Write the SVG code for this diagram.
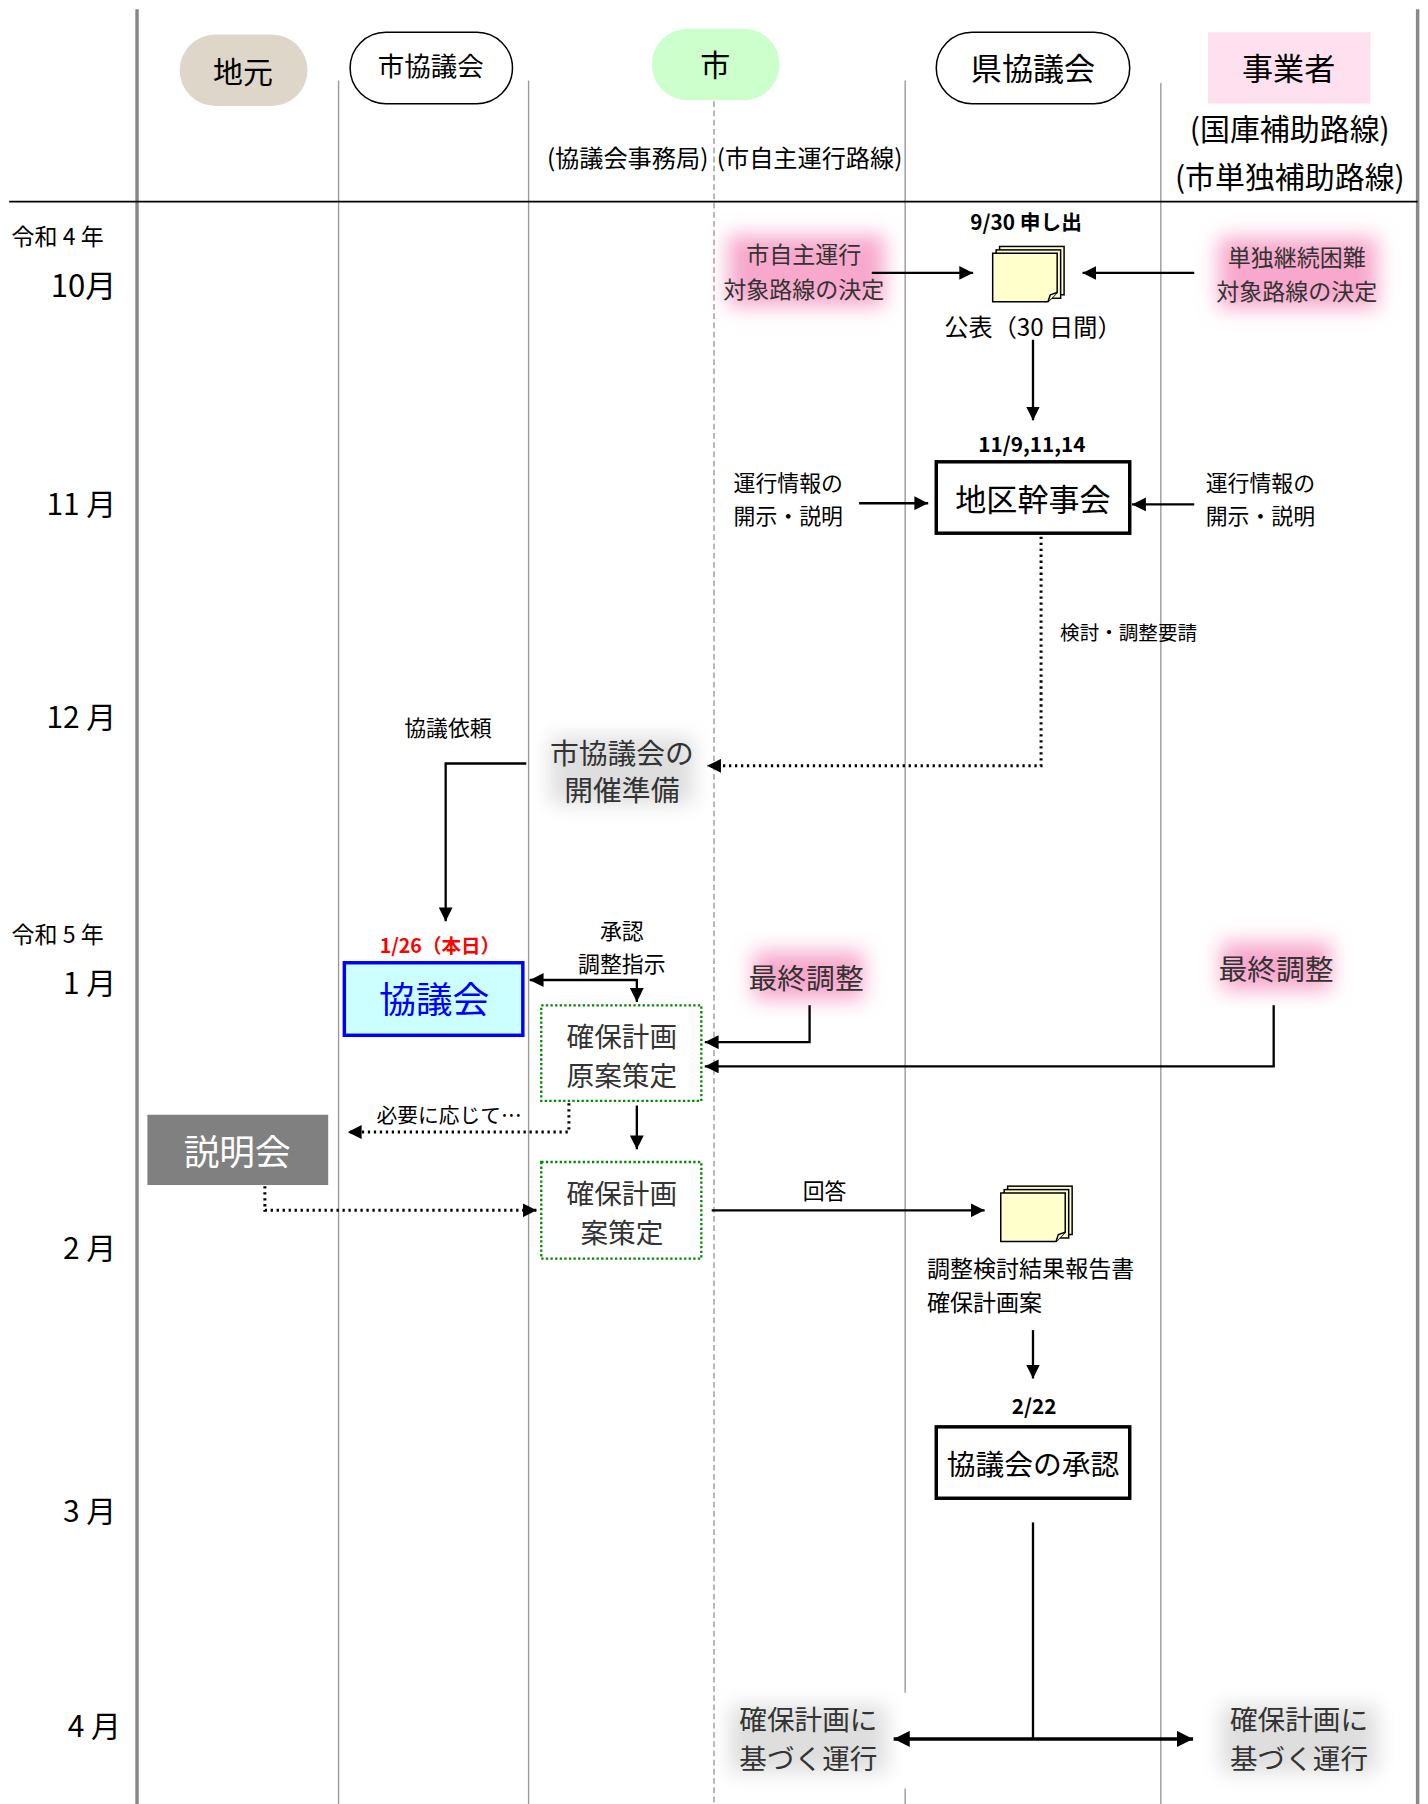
<svg xmlns="http://www.w3.org/2000/svg" width="1428" height="1804" viewBox="0 0 1428 1804">
<defs>
<style>
text{font-family:"Noto Sans CJK JP","Noto Sans",sans-serif;fill:#000;}
.c{text-anchor:middle;dominant-baseline:central;}
.l{text-anchor:start;dominant-baseline:central;}
.r{text-anchor:end;dominant-baseline:central;}
.b{font-weight:bold;}
.g{fill:#333;}
.lane{stroke:#999;stroke-width:1.2;fill:none;}
.frame{stroke:#888;stroke-width:3;fill:none;}
.con{stroke:#000;stroke-width:2;fill:none;}
.dot{stroke:#000;stroke-width:2.6;fill:none;stroke-dasharray:2 3.2;}
.box{fill:#fff;stroke:#000;stroke-width:3;}
.gbox{fill:#fff;stroke:#080;stroke-width:2;stroke-dasharray:2 2;}
.doc{fill:#ffffcc;stroke:#000;stroke-width:1.3;}
</style>
<marker id="ah" viewBox="0 0 10 10" refX="10" refY="5" markerWidth="12" markerHeight="12" markerUnits="userSpaceOnUse" orient="auto-start-reverse"><path d="M0,0 L10,5 L0,10 z" fill="#000"/></marker>
<marker id="ahb" viewBox="0 0 10 10" refX="10" refY="5" markerWidth="14" markerHeight="14" markerUnits="userSpaceOnUse" orient="auto-start-reverse"><path d="M0,0 L10,5 L0,10 z" fill="#000"/></marker>
<filter id="blur" x="-40%" y="-40%" width="180%" height="180%"><feGaussianBlur stdDeviation="9"/></filter>
<g id="docs">
<rect class="doc" x="6" y="0" width="56" height="42"/>
<rect class="doc" x="3" y="3" width="56" height="42"/>
<path class="doc" d="M0,6 H56 V40 L48,48 H0 Z"/>
<path class="doc" d="M48,48 L50,42 L56,40"/>
</g>
</defs>
<rect width="1428" height="1804" fill="#fff"/>
<g transform="scale(1.15161)">
<g id="grid">
<line class="lane" x1="294" y1="70" x2="294" y2="1567"/>
<line class="lane" x1="459" y1="70" x2="459" y2="1567"/>
<line class="lane" x1="620" y1="88" x2="620" y2="1567" stroke-dasharray="5 3"/>
<line class="lane" x1="786" y1="70" x2="786" y2="1470"/>
<line class="lane" x1="786" y1="1553" x2="786" y2="1567"/>
<line class="lane" x1="1008" y1="72" x2="1008" y2="1567"/>
<line class="frame" x1="119" y1="8" x2="119" y2="1567"/>
<line class="frame" x1="1231" y1="8" x2="1231" y2="1567"/>
<line x1="8" y1="175" x2="1231" y2="175" stroke="#000" stroke-width="1.5"/>
</g>
<g id="timeline">
<text class="l" x="10" y="204" font-size="20">令和 4 年</text>
<text class="r" x="101" y="246" font-size="27">10月</text>
<text class="r" x="101" y="436" font-size="26">11 月</text>
<text class="r" x="101" y="621" font-size="26">12 月</text>
<text class="l" x="10" y="810" font-size="20">令和 5 年</text>
<text class="r" x="101" y="852" font-size="26">1 月</text>
<text class="r" x="101" y="1082" font-size="26">2 月</text>
<text class="r" x="101" y="1310" font-size="26">3 月</text>
<text class="r" x="105" y="1497" font-size="26">4 月</text>
</g>
<g id="h-jimoto"><rect x="156" y="30" width="111" height="62" rx="31" fill="#ddd6c9"/><text class="c" x="211" y="61" font-size="26">地元</text></g>
<g id="h-shikyo"><rect x="304" y="28" width="141" height="62" rx="31" fill="#fff" stroke="#000" stroke-width="1.3"/><text class="c" x="374" y="56" font-size="23">市協議会</text></g>
<g id="h-shi"><rect x="566" y="25" width="111" height="62" rx="31" fill="#ccffcc"/><text class="c" x="621" y="55" font-size="26">市</text></g>
<g id="h-kenkyo"><rect x="813" y="28" width="168" height="62" rx="31" fill="#fff" stroke="#000" stroke-width="1.3"/><text class="c" x="897" y="58" font-size="27">県協議会</text></g>
<g id="h-jigyo"><rect x="1049" y="28" width="141" height="62" fill="#ffe0ee"/><text class="c" x="1119" y="58" font-size="27">事業者</text>
<text class="c" x="1120" y="110" font-size="26">(国庫補助路線)</text>
<text class="c" x="1120" y="152" font-size="26">(市単独補助路線)</text></g>
<g id="h-sub"><text class="c" x="545" y="136" font-size="21">(協議会事務局)</text><text class="c" x="703" y="136" font-size="21">(市自主運行路線)</text></g>

<g id="n-shijishu"><rect x="632" y="204" width="136" height="62" fill="#f7a8cc" filter="url(#blur)"/>
<text class="c g" font-size="20"><tspan x="698" y="220">市自主運行</tspan><tspan x="698" y="250">対象路線の決定</tspan></text></g>
<g id="n-tandoku"><rect x="1058" y="206" width="138" height="62" fill="#f7a8cc" filter="url(#blur)"/>
<text class="c g" font-size="20"><tspan x="1126" y="222">単独継続困難</tspan><tspan x="1126" y="252">対象路線の決定</tspan></text></g>
<g id="n-moushide"><text class="c b" x="891" y="192" font-size="18">9/30 申し出</text><use href="#docs" x="862" y="214"/><text class="c" x="897" y="283" font-size="21">公表（30 日間）</text></g>
<g id="n-kanjikai"><text class="c b" x="896" y="385" font-size="18">11/9,11,14</text><rect class="box" x="813" y="401" width="168" height="62"/><text class="c" x="897" y="432" font-size="27">地区幹事会</text></g>
<g id="n-info-l"><text class="l" font-size="19"><tspan x="637" y="418">運行情報の</tspan><tspan x="637" y="446">開示・説明</tspan></text></g>
<g id="n-info-r"><text class="l" font-size="19"><tspan x="1047" y="418">運行情報の</tspan><tspan x="1047" y="446">開示・説明</tspan></text></g>
<g id="n-junbi"><rect x="478" y="640" width="124" height="58" fill="#dedede" filter="url(#blur)"/>
<text class="c g" font-size="25"><tspan x="540" y="652">市協議会の</tspan><tspan x="540" y="684">開催準備</tspan></text></g>
<g id="n-kyogikai"><text class="c b" x="382" y="820" font-size="17" style="fill:#f00">1/26（本日）</text>
<rect x="299" y="836" width="155" height="63" fill="#ccffff" stroke="#0000ff" stroke-width="3"/><text class="c" x="377" y="866" font-size="32" style="fill:#0000ff">協議会</text></g>
<g id="n-gen-an"><rect class="gbox" x="470" y="873" width="139" height="83"/><text class="c g" font-size="24"><tspan x="540" y="899">確保計画</tspan><tspan x="540" y="933">原案策定</tspan></text></g>
<g id="n-saishu-l"><rect x="654" y="826" width="96" height="42" fill="#f7a8cc" filter="url(#blur)"/><text class="c g" x="700" y="848" font-size="25">最終調整</text></g>
<g id="n-saishu-r"><rect x="1060" y="818" width="96" height="42" fill="#f7a8cc" filter="url(#blur)"/><text class="c g" x="1108" y="840" font-size="25">最終調整</text></g>
<g id="n-setsumei"><rect x="128" y="968" width="157" height="61" fill="#808080"/><text class="c" x="206" y="998" font-size="31" style="fill:#fff">説明会</text></g>
<g id="n-an"><rect class="gbox" x="470" y="1009" width="139" height="84"/><text class="c g" font-size="24"><tspan x="540" y="1035">確保計画</tspan><tspan x="540" y="1069">案策定</tspan></text></g>
<g id="n-houkoku"><use href="#docs" x="869" y="1030"/><text class="l" font-size="20"><tspan x="805" y="1100">調整検討結果報告書</tspan><tspan x="805" y="1130">確保計画案</tspan></text></g>
<g id="n-shounin"><text class="c b" x="898" y="1220" font-size="18">2/22</text><rect class="box" x="813" y="1239" width="168" height="62"/><text class="c" x="897" y="1270" font-size="25">協議会の承認</text></g>
<g id="n-unko-l"><rect x="634" y="1481" width="136" height="58" fill="#dedede" filter="url(#blur)"/><text class="c g" font-size="24"><tspan x="702" y="1492">確保計画に</tspan><tspan x="702" y="1526">基づく運行</tspan></text></g>
<g id="n-unko-r"><rect x="1060" y="1481" width="136" height="58" fill="#dedede" filter="url(#blur)"/><text class="c g" font-size="24"><tspan x="1128" y="1492">確保計画に</tspan><tspan x="1128" y="1526">基づく運行</tspan></text></g>

<g id="connectors">
<path class="con" d="M757,237 H845" marker-end="url(#ah)"/>
<path class="con" d="M1037,237 H940" marker-end="url(#ah)"/>
<path class="con" d="M897,295 V365" marker-end="url(#ah)"/>
<path class="con" d="M746,437 H806" marker-end="url(#ah)"/>
<path class="con" d="M1037,438 H983" marker-end="url(#ah)"/>
<path class="dot" d="M904,466 V665 H614" marker-end="url(#ah)"/>
<path class="con" d="M457,663 H387 V800" marker-end="url(#ah)"/>
<path class="con" d="M460,851 H553 V870" marker-start="url(#ah)" marker-end="url(#ah)"/>
<path class="con" d="M703,873 V905 H612" marker-end="url(#ah)"/>
<path class="con" d="M1106,873 V926 H612" marker-end="url(#ah)"/>
<path class="con" d="M553,960 V998" marker-end="url(#ah)"/>
<path class="dot" d="M494,958 V983 H302" marker-end="url(#ah)"/>
<path class="dot" d="M230,1030 V1051 H466" marker-end="url(#ah)"/>
<path class="con" d="M618,1051 H855" marker-end="url(#ah)"/>
<path class="con" d="M897,1155 V1197" marker-end="url(#ah)"/>
<path class="con" d="M897,1322 V1510"/>
<path class="con" style="stroke-width:3" d="M776,1510 H1036" marker-start="url(#ahb)" marker-end="url(#ahb)"/>
<text class="c" x="980" y="548" font-size="17">検討・調整要請</text>
<text class="c" x="389" y="631" font-size="19">協議依頼</text>
<text class="c" font-size="19"><tspan x="540" y="807">承認</tspan><tspan x="540" y="835">調整指示</tspan></text>
<text class="c" x="390" y="967" font-size="18">必要に応じて…</text>
<text class="c" x="716" y="1033" font-size="19">回答</text>
</g>
</g>
</svg>
